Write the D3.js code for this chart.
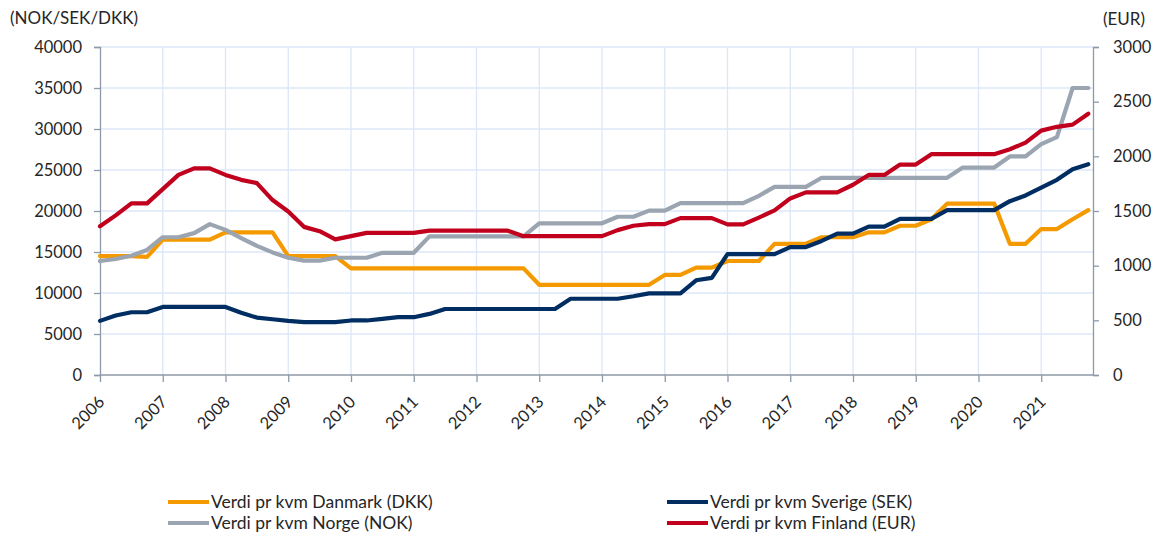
<!DOCTYPE html>
<html>
<head>
<meta charset="utf-8">
<script src="https://cdn.jsdelivr.net/npm/d3@7/dist/d3.min.js"></script>
<style>
  html, body { margin: 0; padding: 0; background: #fff; }
  svg { display: block; font-family: Lato, "Liberation Sans", sans-serif; }
</style>
</head>
<body>
<svg id="chart" width="1163" height="540"></svg>
<script>
// ---- data (quarterly, 2006 Q1 .. 2021 Q4) ----
const years = [2006,2007,2008,2009,2010,2011,2012,2013,2014,2015,2016,2017,2018,2019,2020,2021];
const leftTicks = [0,5000,10000,15000,20000,25000,30000,35000,40000];
const rightTicks = [0,500,1000,1500,2000,2500,3000];

const danmark = [14500,14500,14500,14400, 16500,16500,16500,16500, 17400,17400,17400,17400,
  14500,14500,14500,14500, 13000,13000,13000,13000, 13000,13000,13000,13000, 13000,13000,13000,13000,
  11000,11000,11000,11000, 11000,11000,11000,11000, 12200,12200,13100,13100,
  13900,13900,13900,16000, 16000,16000,16800,16800, 16800,17400,17400,18200,
  18200,19000,20900,20900, 20900,20900,16000,16000, 17800,17800,19000,20100];

const sverige = [6600,7250,7650,7650, 8300,8300,8300,8300, 8300,7600,7000,6800,
  6600,6450,6450,6450, 6650,6650,6850,7050, 7050,7450,8050,8050, 8050,8050,8050,8050,
  8050,8050,9300,9300, 9300,9300,9600,9950, 9950,9950,11550,11850,
  14750,14750,14750,14750, 15600,15600,16350,17250, 17250,18100,18100,19050,
  19050,19050,20100,20100, 20100,20100,21200,21900, 22850,23800,25100,25700];

const norge = [13900,14150,14550,15250, 16800,16800,17300,18400, 17700,16700,15750,14950,
  14300,13950,13950,14300, 14300,14300,14900,14900, 14900,16900,16900,16900, 16900,16900,16900,16900,
  18500,18500,18500,18500, 18500,19300,19300,20050, 20050,20950,20950,20950,
  20950,20950,21850,22950, 22950,22950,24050,24050, 24050,24050,24050,24050,
  24050,24050,24050,25300, 25300,25300,26650,26650, 28150,29000,35000,35000];

const finland = [1360,1460,1570,1570, 1700,1830,1890,1890, 1830,1785,1755,1600,
  1495,1355,1315,1240, 1270,1300,1300,1300, 1300,1320,1320,1320, 1320,1320,1320,1270,
  1270,1270,1270,1270, 1270,1325,1365,1380, 1380,1435,1435,1435,
  1378,1378,1440,1505, 1615,1670,1670,1670, 1740,1830,1830,1925,
  1925,2020,2020,2020, 2020,2020,2065,2125, 2235,2270,2290,2390];

const seriesNames = ["Verdi pr kvm Danmark (DKK)", "Verdi pr kvm Sverige (SEK)",
                     "Verdi pr kvm Norge (NOK)", "Verdi pr kvm Finland (EUR)"];
const seriesColors = ["#F49A00", "#002D62", "#9BA4B1", "#C0001D"];

// ---- layout ----
const svg = d3.select("#chart");
const L = 100, R = 1093, T = 47, B = 375;
const gridColor = "#DCE6F8", axisColor = "#8E99A8", textColor = "#262626";

const x = d3.scaleLinear().domain([0, 63.3]).range([L, R]);
const yL = d3.scaleLinear().domain([0, 40000]).range([B, T]);
const yR = d3.scaleLinear().domain([0, 3000]).range([B, T]);

// gridlines
const g = svg.append("g");
g.selectAll(".hg").data(leftTicks.filter(d => d > 0)).enter().append("line")
  .attr("x1", L).attr("x2", R).attr("y1", d => yL(d)).attr("y2", d => yL(d))
  .attr("stroke", gridColor).attr("stroke-width", 1.3);
g.selectAll(".vg").data(years.slice(1)).enter().append("line")
  .attr("x1", (d, i) => x((i + 1) * 4)).attr("x2", (d, i) => x((i + 1) * 4))
  .attr("y1", T).attr("y2", B)
  .attr("stroke", gridColor).attr("stroke-width", 1.3);

// left axis
const axL = svg.append("g").attr("transform", `translate(${L},0)`)
  .call(d3.axisLeft(yL).tickValues(leftTicks).tickSize(6).tickPadding(12).tickFormat(d3.format("d")));
// right axis
const axR = svg.append("g").attr("transform", `translate(${R},0)`)
  .call(d3.axisRight(yR).tickValues(rightTicks).tickSize(6).tickPadding(14).tickFormat(d3.format("d")));
// bottom axis
const axB = svg.append("g").attr("transform", `translate(0,${B})`)
  .call(d3.axisBottom(x).tickValues(years.map((d, i) => i * 4)).tickSize(7)
    .tickFormat((d) => years[d / 4]));

[axL, axR, axB].forEach(a => {
  a.select(".domain").attr("stroke", axisColor).attr("stroke-width", 1.3);
  a.selectAll(".tick line").attr("stroke", axisColor).attr("stroke-width", 1.3);
  a.selectAll(".tick text").attr("fill", textColor).style("font-size", "16.5px")
    .style("font-family", "Lato, 'Liberation Sans', sans-serif");
});
axB.select(".domain").attr("d", `M${L},0H${R}`);
axB.selectAll(".tick text")
  .attr("text-anchor", "end")
  .attr("transform", "translate(1,24) rotate(-45)")
  .attr("x", 0).attr("y", 0).attr("dy", "0.35em");

// axis titles
svg.append("text").attr("x", 10).attr("y", 24).attr("fill", textColor)
  .style("font-size", "17px").text("(NOK/SEK/DKK)");
svg.append("text").attr("x", 1103).attr("y", 25).attr("fill", textColor)
  .style("font-size", "17px").text("(EUR)");

// lines
const lineL = d3.line().x((d, i) => x(i)).y(d => yL(d));
const lineR = d3.line().x((d, i) => x(i)).y(d => yR(d));
const data = [danmark, sverige, norge, finland];
data.forEach((s, k) => {
  svg.append("path").datum(s)
    .attr("d", k === 3 ? lineR : lineL)
    .attr("fill", "none").attr("stroke", seriesColors[k])
    .attr("stroke-width", 4.2).attr("stroke-linejoin", "round").attr("stroke-linecap", "round");
});

// legend
const legPos = [[168, 502], [667, 502], [168, 523], [667, 523]];
const leg = svg.append("g");
seriesNames.forEach((name, k) => {
  const [lx, ly] = legPos[k];
  leg.append("line").attr("x1", lx).attr("x2", lx + 41).attr("y1", ly).attr("y2", ly)
    .attr("stroke", seriesColors[k]).attr("stroke-width", 4.2);
  leg.append("text").attr("x", lx + 43).attr("y", ly).attr("dy", "0.35em")
    .attr("fill", textColor).style("font-size", "17.5px").text(name);
});
</script>
</body>
</html>
